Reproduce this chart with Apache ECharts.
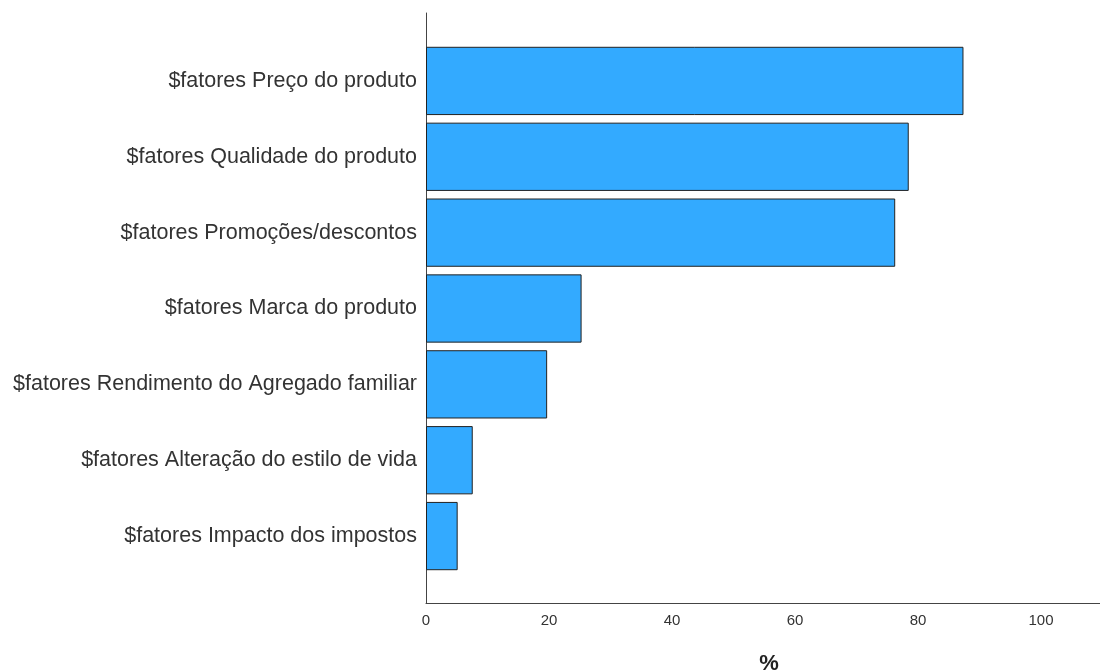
<!DOCTYPE html>
<html>
<head>
<meta charset="utf-8">
<style>
  html, body { margin: 0; padding: 0; background: #fff; }
  #chart { width: 1100px; height: 670px; }
</style>
<script src="https://cdn.jsdelivr.net/npm/echarts@6/dist/echarts.min.js"></script>
</head>
<body>
<div id="chart"></div>
<script>
// categories, top to bottom
const categories = [
  '$fatores Preço do produto',
  '$fatores Qualidade do produto',
  '$fatores Promoções/descontos',
  '$fatores Marca do produto',
  '$fatores Rendimento do Agregado familiar',
  '$fatores Alteração do estilo de vida',
  '$fatores Impacto dos impostos'
]
const percents = [87.4, 78.5, 76.3, 25.3, 19.7, 7.6, 5.15]
const xTicks = [0, 20, 40, 60, 80, 100]

const xMax = 109.6
const font = 'Arial, "Liberation Sans", sans-serif'

const chart = echarts.init(document.getElementById('chart'))

const option = {
  animation: false,
  grid: [
    // frame with the axis lines
    { left: 426, right: 0, top: 13, height: 590, outerBoundsMode: 'none' },
    // band area for the bars
    { left: 426, right: 0, top: 43, height: 531, outerBoundsMode: 'none' }
  ],
  xAxis: [
    {
      gridIndex: 0,
      type: 'value',
      min: 0,
      max: xMax,
      interval: 20,
      splitLine: { show: false },
      axisTick: { show: false },
      axisLine: { show: true, lineStyle: { color: '#444', width: 1 } },
      axisLabel: {
        color: '#333',
        fontSize: 15,
        fontFamily: font,
        margin: 10,
        showMaxLabel: false,
        formatter: v => xTicks.includes(v) ? String(v) : ''
      },
      name: '%',
      nameLocation: 'middle',
      nameGap: 50,
      nameTextStyle: {
        color: '#222', fontSize: 22, fontWeight: 'bold', fontFamily: font,
        padding: [0, 0, 0, 12]
      }
    },
    {
      gridIndex: 1,
      type: 'value',
      min: 0,
      max: xMax,
      show: false
    }
  ],
  yAxis: [
    {
      gridIndex: 0,
      type: 'value',
      min: 0,
      max: 1,
      splitLine: { show: false },
      axisTick: { show: false },
      axisLabel: { show: false },
      axisLine: { show: true, lineStyle: { color: '#444', width: 1 } }
    },
    {
      gridIndex: 1,
      type: 'category',
      inverse: true,
      data: categories,
      axisLine: { show: false },
      axisTick: { show: false },
      axisLabel: {
        color: '#333',
        fontSize: 21.5,
        fontFamily: font,
        margin: 9
      }
    }
  ],
  series: [{
    type: 'bar',
    xAxisIndex: 1,
    yAxisIndex: 1,
    data: percents,
    barCategoryGap: '10%',
    itemStyle: {
      color: '#33aaff',
      borderColor: '#222',
      borderWidth: 1
    }
  }]
}

chart.setOption(option)
</script>
</body>
</html>
